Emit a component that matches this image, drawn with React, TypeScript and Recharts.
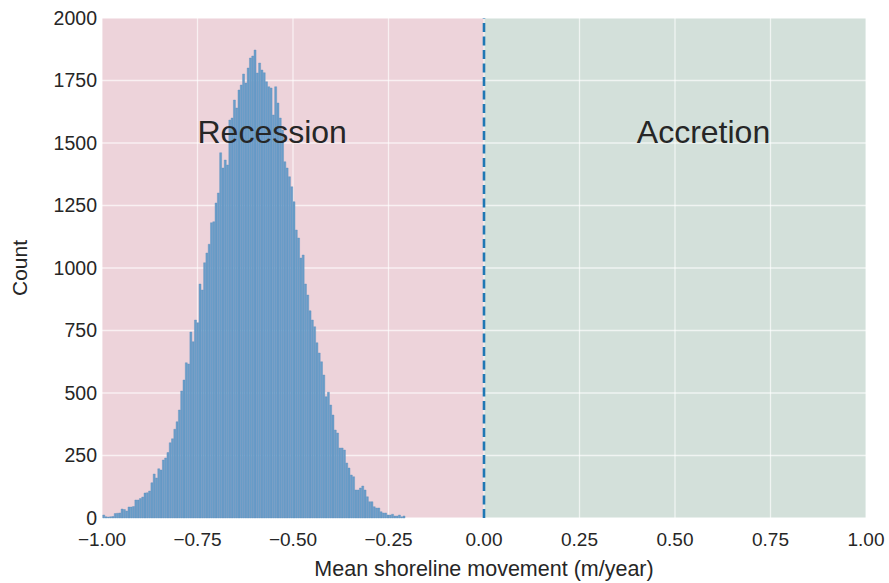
import React from "react";
import { ComposedChart, Bar, XAxis, YAxis, CartesianGrid, ReferenceLine, ReferenceDot } from "recharts";

// histogram counts, bins of 0.006 starting at -0.998
const binStart = -0.998;
const binWidth = 0.006;
const counts = [
  12, 5, 4, 5, 6, 18, 19, 20, 36, 34,
  28, 44, 44, 46, 72, 72, 78, 84, 100, 101,
  108, 141, 176, 160, 197, 192, 232, 240, 262, 301,
  317, 355, 385, 432, 508, 552, 621, 616, 744, 705,
  792, 781, 936, 912, 1021, 1060, 1095, 1181, 1185, 1260,
  1300, 1461, 1400, 1432, 1412, 1592, 1600, 1672, 1640, 1712,
  1732, 1776, 1740, 1800, 1840, 1848, 1872, 1780, 1820, 1792,
  1781, 1745, 1725, 1720, 1612, 1725, 1660, 1600, 1552, 1425,
  1400, 1365, 1325, 1265, 1152, 1120, 1040, 1052, 936, 892,
  829, 792, 765, 701, 660, 625, 572, 485, 503, 452,
  412, 352, 340, 280, 280, 272, 220, 200, 172, 165,
  112, 112, 120, 128, 112, 85, 65, 65, 45, 40,
  40, 25, 20, 20, 12, 12, 15, 8, 8, 12,
  5, 8,
];
const xTicks = [-1, -0.75, -0.5, -0.25, 0, 0.25, 0.5, 0.75, 1];
const yTicks = [0, 250, 500, 750, 1000, 1250, 1500, 1750, 2000];

const bins = counts.map((c, i) => ({
  x: +(binStart + binWidth * (i + 0.5)).toFixed(4),
  count: c,
}));

const font = "'Liberation Sans', Arial, sans-serif";
const textColor = "#262626";
const pink = "#edd3da";
const green = "#d3e0da";
// stripes between the vertical grid lines: recession left of 0, accretion right
const stripeFills = [pink, pink, pink, pink, green, green, green, green];

const fmt = (v: number) => v.toFixed(2).replace("-", "\u2212");

const note = (txt: string) => (props: any) => {
  const vb = props.viewBox || {};
  return (
    <text x={vb.x + 1} y={vb.y + 1} fill={textColor} fontSize={32} fontFamily={font}>
      {txt}
    </text>
  );
};

export default function App() {
  return (
    <div style={{ position: "absolute", left: 0, top: 0, background: "#fff" }}>
      <ComposedChart
        width={889}
        height={583}
        data={bins}
        margin={{ top: 18, right: 23, left: 0, bottom: 0 }}
        barCategoryGap={0}
        barGap={0}
      >
        <CartesianGrid
          stroke="rgba(255,255,255,0.65)"
          strokeWidth={1.3}
          verticalFill={stripeFills}
          fillOpacity={1}
        />
        <XAxis
          dataKey="x"
          type="number"
          domain={[-1, 1]}
          ticks={xTicks}
          tickFormatter={fmt}
          allowDataOverflow
          axisLine={false}
          tickLine={false}
          tickSize={0}
          tickMargin={15}
          height={65}
          tick={{ fill: textColor, fontSize: 19, fontFamily: font }}
          label={{ value: "Mean shoreline movement (m/year)", position: "insideBottom", offset: 7, fill: textColor, fontSize: 21.5, fontFamily: font }}
        />
        <YAxis
          type="number"
          domain={[0, 2000]}
          ticks={yTicks}
          axisLine={false}
          tickLine={false}
          tickSize={0}
          tickMargin={5}
          width={102}
          tick={{ fill: textColor, fontSize: 19.5, fontFamily: font }}
          label={{ value: "Count", angle: -90, position: "insideLeft", offset: 20, fill: textColor, fontSize: 21, fontFamily: font, style: { textAnchor: "middle" } }}
        />
        <Bar dataKey="count" fill="#6a9ec9" stroke="#5a8ebd" strokeWidth={0.4} isAnimationActive={false} />
        <ReferenceLine x={0} stroke="#1f77b4" strokeWidth={2.6} strokeDasharray="9 4.5" />
        <ReferenceDot x={-0.75} y={1500} r={1} fill="none" stroke="none" label={note("Recession")} />
        <ReferenceDot x={0.4} y={1500} r={1} fill="none" stroke="none" label={note("Accretion")} />
      </ComposedChart>
    </div>
  );
}
